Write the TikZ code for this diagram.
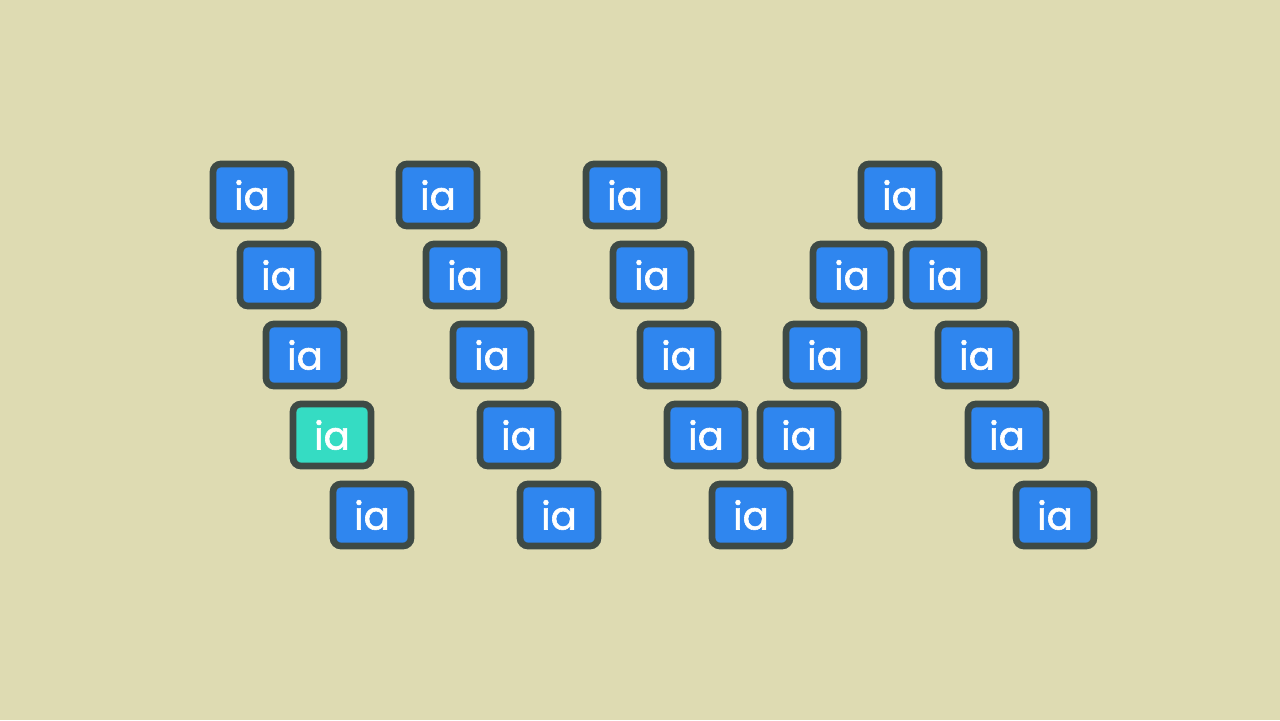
\documentclass[tikz,border=0pt]{standalone}
\usepackage{fontspec}
\setmainfont{Poppins}
\newfontfamily\iafont[FakeBold=1.6]{Poppins}
\usepackage{xcolor}
\usepackage{tikz}

\definecolor{bgbeige}{HTML}{DEDBB2}
\definecolor{boxblue}{HTML}{2F86EF}
\definecolor{boxteal}{HTML}{35DCC3}
\definecolor{boxedge}{HTML}{3E4A45}

\tikzset{
  iabox/.style={draw=boxedge, fill=boxblue, line width=3.8pt, rounded corners=4.5pt,
    minimum width=1.56cm, minimum height=1.24cm, inner sep=0pt,
    text=white, font=\iafont\fontsize{22}{22}\selectfont},
  iateal/.style={iabox, fill=boxteal}
}

\begin{document}
\begin{tikzpicture}[x=0.02cm, y=-0.02cm]
    % Background
    \fill[bgbeige] (0,0) rectangle (1280,720);

    % First slanted column
    \node[iabox] (a1) at (252,195) {ia};
    \node[iabox] (a2) at (279,275) {ia};
    \node[iabox] (a3) at (305,355) {ia};
    \node[iateal] (a4) at (332,435) {ia};
    \node[iabox] (a5) at (372,515) {ia};

    % Second slanted column
    \node[iabox] (b1) at (438,195) {ia};
    \node[iabox] (b2) at (465,275) {ia};
    \node[iabox] (b3) at (492,355) {ia};
    \node[iabox] (b4) at (519,435) {ia};
    \node[iabox] (b5) at (559,515) {ia};

    % Third slanted column
    \node[iabox] (c1) at (625,195) {ia};
    \node[iabox] (c2) at (652,275) {ia};
    \node[iabox] (c3) at (679,355) {ia};
    \node[iabox] (c4) at (706,435) {ia};
    \node[iabox] (c5) at (751,515) {ia};

    % Branching group
    \node[iabox] (d1) at (900,195) {ia};
    \node[iabox] (d2) at (852,275) {ia};
    \node[iabox] (e2) at (945,275) {ia};
    \node[iabox] (d3) at (825,355) {ia};
    \node[iabox] (e3) at (977,355) {ia};
    \node[iabox] (d4) at (799,435) {ia};
    \node[iabox] (e4) at (1007,435) {ia};
    \node[iabox] (e5) at (1055,515) {ia};
\end{tikzpicture}
\end{document}
